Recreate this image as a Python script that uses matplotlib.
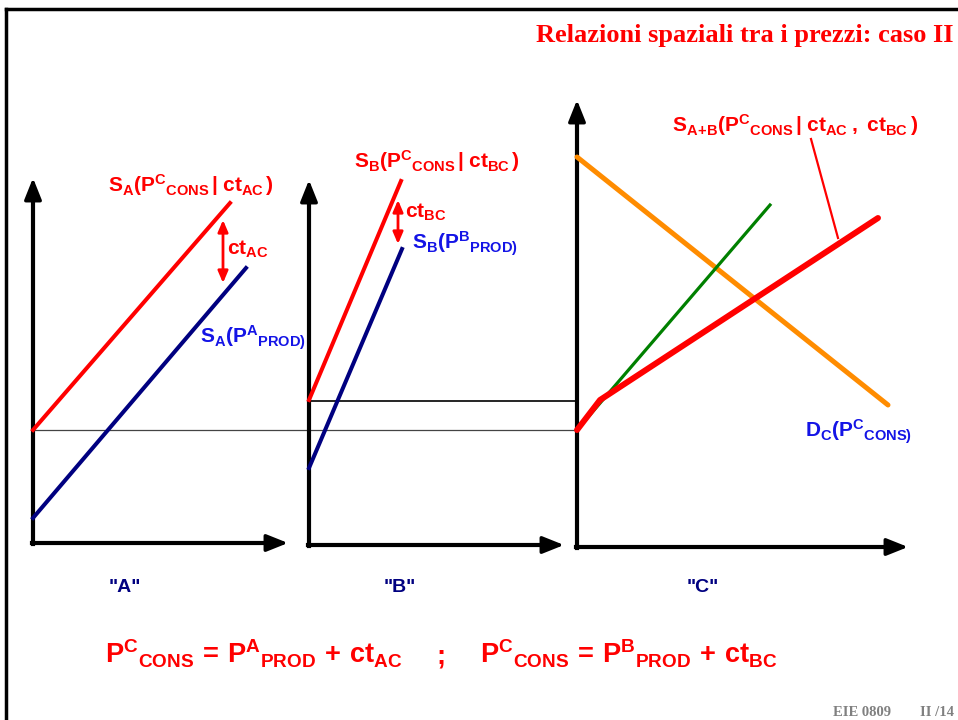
import matplotlib
matplotlib.use("Agg")
import matplotlib.pyplot as plt

# fonts: arial-like bold sans for the math labels, times-like for the title
plt.rcParams['mathtext.fontset'] = 'custom'
plt.rcParams['mathtext.rm'] = 'Liberation Sans:bold'
plt.rcParams['mathtext.it'] = 'Liberation Sans:bold'
plt.rcParams['mathtext.bf'] = 'Liberation Sans:bold'
plt.rcParams['font.family'] = 'Liberation Sans'

# ---- data (slide coordinates, y grows downwards) ----
panel_names = ['"A"', '"B"', '"C"']
axis_x0 = [33, 309, 577]
axis_y0 = [543, 545, 547]
axis_top = [178, 180, 100]
axis_right = [288, 564, 908]
name_x = [125, 400, 703]

# panel A supply curves
sa_cons_x = [33, 230]
sa_cons_y = [430, 203]
sa_prod_x = [33, 246]
sa_prod_y = [518, 268]

# panel B supply curves
sb_cons_x = [309, 401]
sb_cons_y = [400, 181]
sb_prod_x = [309, 402]
sb_prod_y = [468, 249]

# panel C curves
dc_x = [577, 888]
dc_y = [157, 405]
sa_c_x = [577, 770]
sa_c_y = [430, 205]
sab_x = [577, 600, 878]
sab_y = [430, 400, 218]

# price levels linking panels
link_y = [430, 401]
link_x0 = [33, 309]

RED = '#FF0000'
NAVY = '#000080'
BLUE = '#1414E6'

fig = plt.figure(figsize=(9.58, 7.2), dpi=100)
ax = fig.add_axes([0, 0, 1, 1])
ax.set_xlim(0, 958)
ax.set_ylim(720, 0)
ax.axis('off')

# slide frame
ax.plot([6, 958], [9, 9], color='black', lw=2.5, solid_capstyle='projecting')
ax.plot([6, 6], [9, 720], color='black', lw=2.5, solid_capstyle='projecting')

# title and footer
ax.text(954, 42, 'Relazioni spaziali tra i prezzi: caso II', color=RED,
        family='Liberation Serif', weight='bold', fontsize=19, ha='right', va='baseline')
ax.text(833, 716, 'EIE 0809', color='#808080', family='Liberation Serif',
        weight='bold', fontsize=10.5, ha='left', va='baseline')
ax.text(920, 716, 'II /14', color='#808080', family='Liberation Serif',
        weight='bold', fontsize=10.5, ha='left', va='baseline')

# horizontal price links
ax.plot([link_x0[0], axis_x0[2]], [link_y[0], link_y[0]], color='#444444', lw=0.9)
ax.plot([link_x0[1], axis_x0[2]], [link_y[1], link_y[1]], color='black', lw=1.2)

# axes of the three panels
head = '-|>,head_length=0.65,head_width=0.26'
for i in range(3):
    ax.plot([axis_x0[i], axis_x0[i]], [axis_y0[i] + 1, axis_top[i] + 12], color='black', lw=3)
    ax.plot([axis_x0[i] - 1, axis_right[i] - 12], [axis_y0[i], axis_y0[i]], color='black', lw=3)
    ax.annotate('', xy=(axis_x0[i], axis_top[i]), xytext=(axis_x0[i], axis_top[i] + 25),
                arrowprops=dict(arrowstyle=head, color='black', lw=2.5, mutation_scale=20,
                                shrinkA=0, shrinkB=0))
    ax.annotate('', xy=(axis_right[i], axis_y0[i]), xytext=(axis_right[i] - 25, axis_y0[i]),
                arrowprops=dict(arrowstyle=head, color='black', lw=2.5, mutation_scale=20,
                                shrinkA=0, shrinkB=0))
    ax.text(name_x[i], 592, panel_names[i], color=NAVY, fontsize=14, weight='bold',
            ha='center', va='baseline')

# panel A
ax.plot(sa_cons_x, sa_cons_y, color=RED, lw=2.9)
ax.plot(sa_prod_x, sa_prod_y, color=NAVY, lw=2.9)
ax.annotate('', xy=(223, 220), xytext=(223, 283),
            arrowprops=dict(arrowstyle='<|-|>,head_length=0.7,head_width=0.3', color=RED,
                            lw=2, shrinkA=0, shrinkB=0))
ax.text(108, 192, r'$\mathrm{S_A(P^{C}{}_{CONS}\,|\;ct_{AC}\,)}$', color=RED, fontsize=15,
        ha='left', va='baseline')
ax.text(227, 255, r'$\mathrm{ct_{AC}}$', color=RED, fontsize=15, ha='left', va='baseline')
ax.text(200, 344, r'$\mathrm{S_A(P^{A}{}_{PROD)}}$', color=BLUE, fontsize=15,
        ha='left', va='baseline')

# panel B
ax.plot(sb_cons_x, sb_cons_y, color=RED, lw=2.9)
ax.plot(sb_prod_x, sb_prod_y, color=NAVY, lw=2.9)
ax.annotate('', xy=(398, 200), xytext=(398, 244),
            arrowprops=dict(arrowstyle='<|-|>,head_length=0.7,head_width=0.3', color=RED,
                            lw=2, shrinkA=0, shrinkB=0))
ax.text(354, 168, r'$\mathrm{S_B(P^{C}{}_{CONS}\,|\;ct_{BC}\,)}$', color=RED, fontsize=15,
        ha='left', va='baseline')
ax.text(405, 218, r'$\mathrm{ct_{BC}}$', color=RED, fontsize=15, ha='left', va='baseline')
ax.text(412, 250, r'$\mathrm{S_B(P^{B}{}_{PROD)}}$', color=BLUE, fontsize=15,
        ha='left', va='baseline')

# panel C
ax.plot(dc_x, dc_y, color='#FF8C00', lw=3.6, solid_capstyle='round')
ax.plot(sa_c_x, sa_c_y, color='#008000', lw=2.3)
ax.plot(sab_x, sab_y, color=RED, lw=4.3, solid_capstyle='round', solid_joinstyle='round')
ax.plot([811, 838], [139, 238], color=RED, lw=1.6)
ax.text(672, 132, r'$\mathrm{S_{A\!+\!B}(P^{C}{}_{CONS}\,|\;ct_{AC}\;,\;ct_{BC}\,)}$', color=RED,
        fontsize=15, ha='left', va='baseline')
ax.text(805, 437, r'$\mathrm{D_C(P^{C}{}_{CONS)}}$', color=BLUE, fontsize=15,
        ha='left', va='baseline')

# bottom equation
ax.text(105, 663, r'$\mathrm{P^{C}{}_{CONS}\,=\,P^{A}{}_{PROD}\,+\,ct_{AC}}$', color=RED,
        fontsize=19.5, ha='left', va='baseline')
ax.text(436, 663, ';', color=RED, fontsize=19.5, weight='bold', ha='left', va='baseline')
ax.text(480, 663, r'$\mathrm{P^{C}{}_{CONS}\,=\,P^{B}{}_{PROD}\,+\,ct_{BC}}$', color=RED,
        fontsize=19.5, ha='left', va='baseline')

fig.savefig('out.png', dpi=100)
